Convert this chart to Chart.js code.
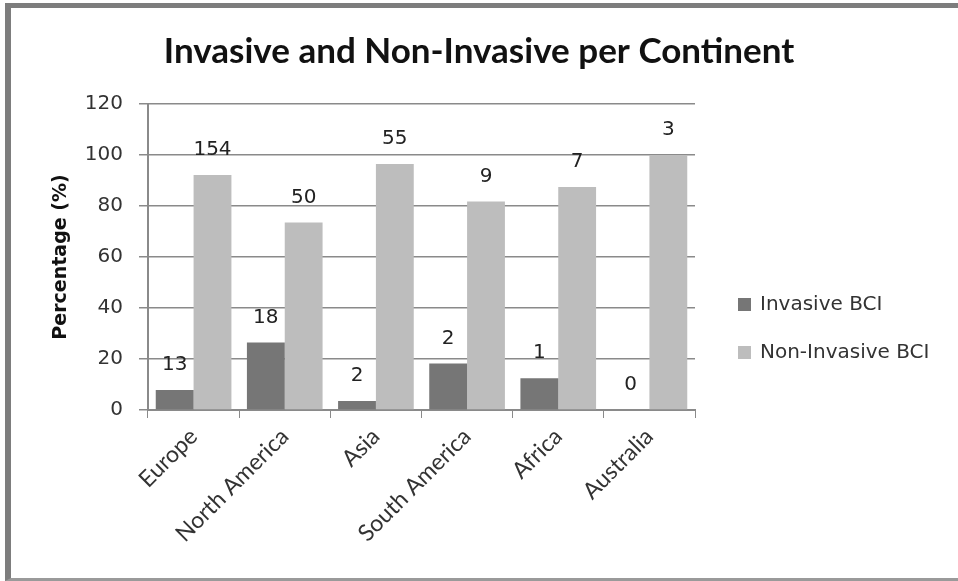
<!DOCTYPE html>
<html>
<head>
<meta charset="utf-8">
<script src="https://cdn.jsdelivr.net/npm/chart.js@4.4.1/dist/chart.umd.min.js"></script>
<style>
html, body { margin: 0; padding: 0; background: #fff; }
#wrap { position: relative; width: 958px; height: 581px; overflow: hidden; }
#chart { position: absolute; left: 0; top: 0; }
#frame {
    position: absolute; left: 5px; top: 3px; width: 960px; height: 578px;
    box-sizing: border-box; pointer-events: none;
    border-left: 6px solid #7d7d7d; border-top: 5px solid #7d7d7d; border-bottom: 3px solid #9a9a9a;
}
</style>
</head>
<body>
<div id="wrap">
    <canvas id="chart" width="958" height="581"></canvas>
    <div id="frame"></div>
</div>
<script>
const continents = ['Europe', 'North America', 'Asia', 'South America', 'Africa', 'Australia'];
const invasivePct = [7.8, 26.5, 3.5, 18.2, 12.5, 0];
const nonInvasivePct = [92.2, 73.5, 96.5, 81.8, 87.5, 100];
const invasiveCount = [13, 18, 2, 2, 1, 0];
const nonInvasiveCount = [154, 50, 55, 9, 7, 3];
const yTicks = [0, 20, 40, 60, 80, 100, 120];

const axisGray = '#8a8a8a';
const labelFont = 'DejaVu Sans';

// counts written above each bar
const countLabels = {
    id: 'countLabels',
    afterDatasetsDraw(chart) {
        const ctx = chart.ctx;
        ctx.save();
        ctx.font = `20px "${labelFont}"`;
        ctx.fillStyle = '#222';
        ctx.textAlign = 'center';
        ctx.textBaseline = 'middle';
        chart.data.datasets.forEach((ds, i) => {
            chart.getDatasetMeta(i).data.forEach((bar, j) => {
                ctx.fillText(String(ds.counts[j]), bar.x, bar.y - 25);
            });
        });
        ctx.restore();
    }
};

// legend to the right of the plot, like the spreadsheet one
const sideLegend = {
    id: 'sideLegend',
    afterDraw(chart) {
        const ctx = chart.ctx;
        const area = chart.chartArea;
        const x = area.right + 43;
        const y0 = area.top + 201;
        ctx.save();
        ctx.font = `20px "${labelFont}"`;
        ctx.textBaseline = 'middle';
        ctx.textAlign = 'left';
        chart.data.datasets.forEach((ds, i) => {
            const y = y0 + i * 48;
            ctx.fillStyle = ds.backgroundColor;
            ctx.fillRect(x, y - 7, 13, 13);
            ctx.fillStyle = '#333';
            ctx.fillText(ds.label, x + 22, y);
        });
        ctx.restore();
    }
};

new Chart(document.getElementById('chart'), {
    type: 'bar',
    data: {
        labels: continents,
        datasets: [
            { label: 'Invasive BCI', data: invasivePct, counts: invasiveCount, backgroundColor: '#767676' },
            { label: 'Non-Invasive BCI', data: nonInvasivePct, counts: nonInvasiveCount, backgroundColor: '#bdbdbd' }
        ]
    },
    options: {
        responsive: false,
        animation: false,
        layout: { padding: 0 },
        datasets: { bar: { categoryPercentage: 0.83, barPercentage: 1.0 } },
        plugins: {
            legend: { display: false },
            tooltip: { enabled: false },
            title: {
                display: true,
                text: 'Invasive and Non-Invasive per Continent',
                color: '#111',
                font: { family: 'Lato', size: 35, weight: 'bold' },
                padding: { top: 31, bottom: 31 }
            }
        },
        scales: {
            x: {
                grid: { display: true, drawOnChartArea: false, drawTicks: true, offset: true, tickLength: 8, color: axisGray },
                border: { color: axisGray, width: 2 },
                ticks: {
                    color: '#333', minRotation: 45, maxRotation: 45, padding: 5,
                    font: { family: 'Lato', size: 23 }
                },
                afterFit: s => { s.height = 171; }
            },
            y: {
                min: 0, max: 120,
                afterBuildTicks: s => { s.ticks = yTicks.map(v => ({ value: v })); },
                grid: { color: axisGray, lineWidth: 1.5, tickLength: 9 },
                border: { color: axisGray, width: 2 },
                ticks: { color: '#333', padding: 16, font: { family: labelFont, size: 20 } },
                title: {
                    display: true, text: 'Percentage (%)', color: '#111',
                    font: { family: labelFont, size: 19, weight: 'bold' },
                    padding: { top: 50, bottom: 0 }
                },
                afterFit: s => { s.width = 148; }
            },
            // empty scale that only reserves room for the legend on the right
            side: {
                type: 'linear', position: 'right', display: true,
                grid: { display: false }, border: { display: false },
                ticks: { display: false },
                afterFit: s => { s.width = 263; }
            }
        }
    },
    plugins: [countLabels, sideLegend]
});
</script>
</body>
</html>
